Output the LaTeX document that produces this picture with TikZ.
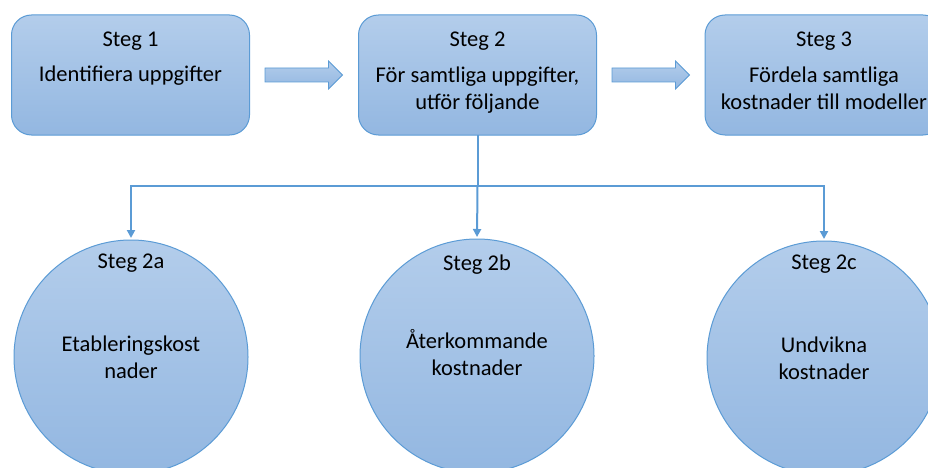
\documentclass[tikz,border=0pt]{standalone}
\usepackage{fontspec}
\setmainfont{Carlito}
\usepackage{tikz}
\usetikzlibrary{arrows.meta,positioning}

\definecolor{stepline}{HTML}{5B9BD5}
\definecolor{steptop}{HTML}{B3CDEB}
\definecolor{stepbottom}{HTML}{93B7E1}

\tikzset{
  stepbox/.style={draw=stepline, line width=1pt, rounded corners=20pt,
    top color=steptop, bottom color=stepbottom,
    minimum width=238pt, minimum height=120pt, outer sep=0pt, inner sep=0pt},
  stepcircle/.style={circle, draw=stepline, line width=1pt,
    top color=steptop, bottom color=stepbottom,
    minimum size=234pt, outer sep=0pt, inner sep=0pt},
  steptext/.style={font=\fontsize{22.5}{27}\selectfont, align=center, anchor=base, inner sep=0pt},
  blockarrow/.style={draw=stepline, line width=0.8pt, top color=steptop, bottom color=stepbottom},
  link/.style={draw=stepline, line width=2pt},
}

\begin{document}
\begin{tikzpicture}[x=1pt, y=1pt, >={Triangle[width=8pt,length=8pt]}]
  \clip (0,0) rectangle (928,-468);
  \useasboundingbox (0,0) rectangle (928,-468);

  % Upper steps
  \node[stepbox] (s1) at (130.5,-75) {};
  \node[stepbox] (s2) at (477.5,-75) {};
  \node[stepbox] (s3) at (824,-75) {};

  % (base of a two-line text is its last line)
  \node[steptext] (s1t) at ([yshift=-32]s1.north) {Steg 1};
  \node[steptext] (s1b) at ([yshift=-67]s1.north) {Identifiera uppgifter};
  \node[steptext] (s2t) at ([yshift=-32]s2.north) {Steg 2};
  \node[steptext] (s2b) at ([yshift=-95]s2.north) {För samtliga uppgifter,\\utför följande};
  \node[steptext] (s3t) at ([yshift=-32]s3.north) {Steg 3};
  \node[steptext] (s3b) at ([yshift=-95]s3.north) {Fördela samtliga\\kostnader till modeller};

  % Block arrows between the steps
  \foreach \from in {s1, s2} {
    \draw[blockarrow, shift={(\from.east)}]
      (15.5,7) -- (79,7) -- (79,14) -- (93,0) -- (79,-14) -- (79,-7) -- (15.5,-7) -- cycle;
  }

  % Sub-steps
  \node[stepcircle] (c1) at (131,-357) {};
  \node[stepcircle] (c2) at (477,-356) {};
  \node[stepcircle] (c3) at (824,-358) {};

  \node[steptext] (c1t) at ([yshift=-28]c1.north) {Steg 2a};
  \node[steptext] (c1b) at ([yshift=-21]c1.center) {Etableringskost\\nader};
  \node[steptext] (c2t) at ([yshift=-31]c2.north) {Steg 2b};
  \node[steptext] (c2b) at ([yshift=-19]c2.center) {Återkommande\\kostnader};
  \node[steptext] (c3t) at ([yshift=-28]c3.north) {Steg 2c};
  \node[steptext] (c3b) at ([yshift=-21]c3.center) {Undvikna\\kostnader};

  % Connectors
  \draw[link] (s2.south) -- ++(0,-51) coordinate (hub);
  \draw[link, ->, shorten >=2pt] (hub) -| (c1.north);
  \draw[link, ->, shorten >=2pt] (hub) -- (c2.north);
  \draw[link, ->, shorten >=2pt] (hub) -| (c3.north);
\end{tikzpicture}
\end{document}
